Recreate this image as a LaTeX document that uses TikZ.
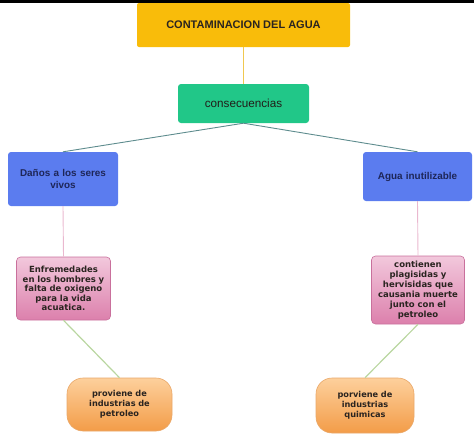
\documentclass[tikz,border=0pt]{standalone}
\usepackage{fontspec}
\setmainfont{Liberation Sans}
\newfontfamily\dvs{DejaVu Sans}
\definecolor{topfill}{HTML}{F9BC0A}
\definecolor{greenfill}{HTML}{21C788}
\definecolor{bluefill}{HTML}{5B7CEF}
\definecolor{navytext}{HTML}{1E2658}
\definecolor{pinktop}{HTML}{F2C8DC}
\definecolor{pinkbot}{HTML}{DC80AC}
\definecolor{pinkdraw}{HTML}{C9709C}
\definecolor{orangetop}{HTML}{FDD09C}
\definecolor{orangebot}{HTML}{F39C48}
\definecolor{orangedraw}{HTML}{E9A86A}
\definecolor{yline}{HTML}{F0C850}
\definecolor{tline}{HTML}{5E8C8E}
\definecolor{pline}{HTML}{EAB8CF}
\definecolor{gline}{HTML}{B9D6A0}
\definecolor{darktext}{HTML}{2A2420}
\tikzset{
  box/.style={draw=none, align=center, inner sep=2pt},
  topbox/.style={box, fill=topfill, rounded corners=2pt, text=darktext, font=\bfseries\fontsize{11}{13}\selectfont},
  greenbox/.style={box, fill=greenfill, rounded corners=3pt, text=darktext!80!black, font=\fontsize{11.7}{14}\selectfont},
  bluebox/.style={box, fill=bluefill, rounded corners=3pt, text=navytext, font=\bfseries\fontsize{9.9}{11.2}\selectfont},
  pinkbox/.style={box, draw=pinkdraw, line width=0.6pt, top color=pinktop, bottom color=pinkbot, rounded corners=4pt, text=darktext, font=\dvs\bfseries\fontsize{8.5}{9.6}\selectfont},
  orangebox/.style={box, draw=orangedraw, line width=0.6pt, top color=orangetop, bottom color=orangebot, rounded corners=16pt, text=darktext, font=\dvs\bfseries\fontsize{8.2}{10}\selectfont},
  conn/.style={line width=0.9pt},
}
\begin{document}
\begin{tikzpicture}[x=1pt,y=-1pt]
\useasboundingbox (0,0) rectangle (474,440);
\fill[black] (0,0) rectangle (474,3);
\node[topbox, minimum width=213, minimum height=44] (top) at (243.5,25) {CONTAMINACION DEL AGUA};
\node[greenbox, minimum width=131, minimum height=39] (cons) at (243.5,103.5) {consecuencias};
\node[bluebox, minimum width=110, minimum height=54, text width=104] (lb) at (63,179) {Daños a los seres\\vivos};
\node[bluebox, minimum width=109, minimum height=49, text width=104] (rb) at (417.5,176.5) {Agua inutilizable};
\node[pinkbox, minimum width=93, minimum height=63, text width=90] (lp) at (63.5,288.5) {Enfremedades\\en los hombres y\\falta de oxigeno\\para la vida\\acuatica.};
\node[pinkbox, minimum width=92, minimum height=68, text width=89, font=\dvs\bfseries\fontsize{8.5}{10}\selectfont] (rp) at (418,290) {contienen\\plagisidas y\\hervisidas que\\causania muerte\\junto con el\\petroleo};
\node[orangebox, minimum width=105, minimum height=53, text width=90] (lo) at (119.5,404.5) {proviene de\\industrias de\\petroleo};
\node[orangebox, minimum width=98, minimum height=55, text width=88] (ro) at (365,405.5) {porviene de\\industrias\\quimicas};
\draw[conn, yline, line width=1.3pt] (top.south) -- (cons.north);
\draw[conn, tline] (cons.south) -- (lb.north);
\draw[conn, tline] (cons.south) -- (rb.north);
\draw[conn, pline] (lb.south) -- (lp.north);
\draw[conn, pline] (rb.south) -- (rp.north);
\draw[conn, gline, line width=1.2pt] (lp.south) -- (lo.north);
\draw[conn, gline, line width=1.2pt] (rp.south) -- (ro.north);
\end{tikzpicture}
\end{document}
